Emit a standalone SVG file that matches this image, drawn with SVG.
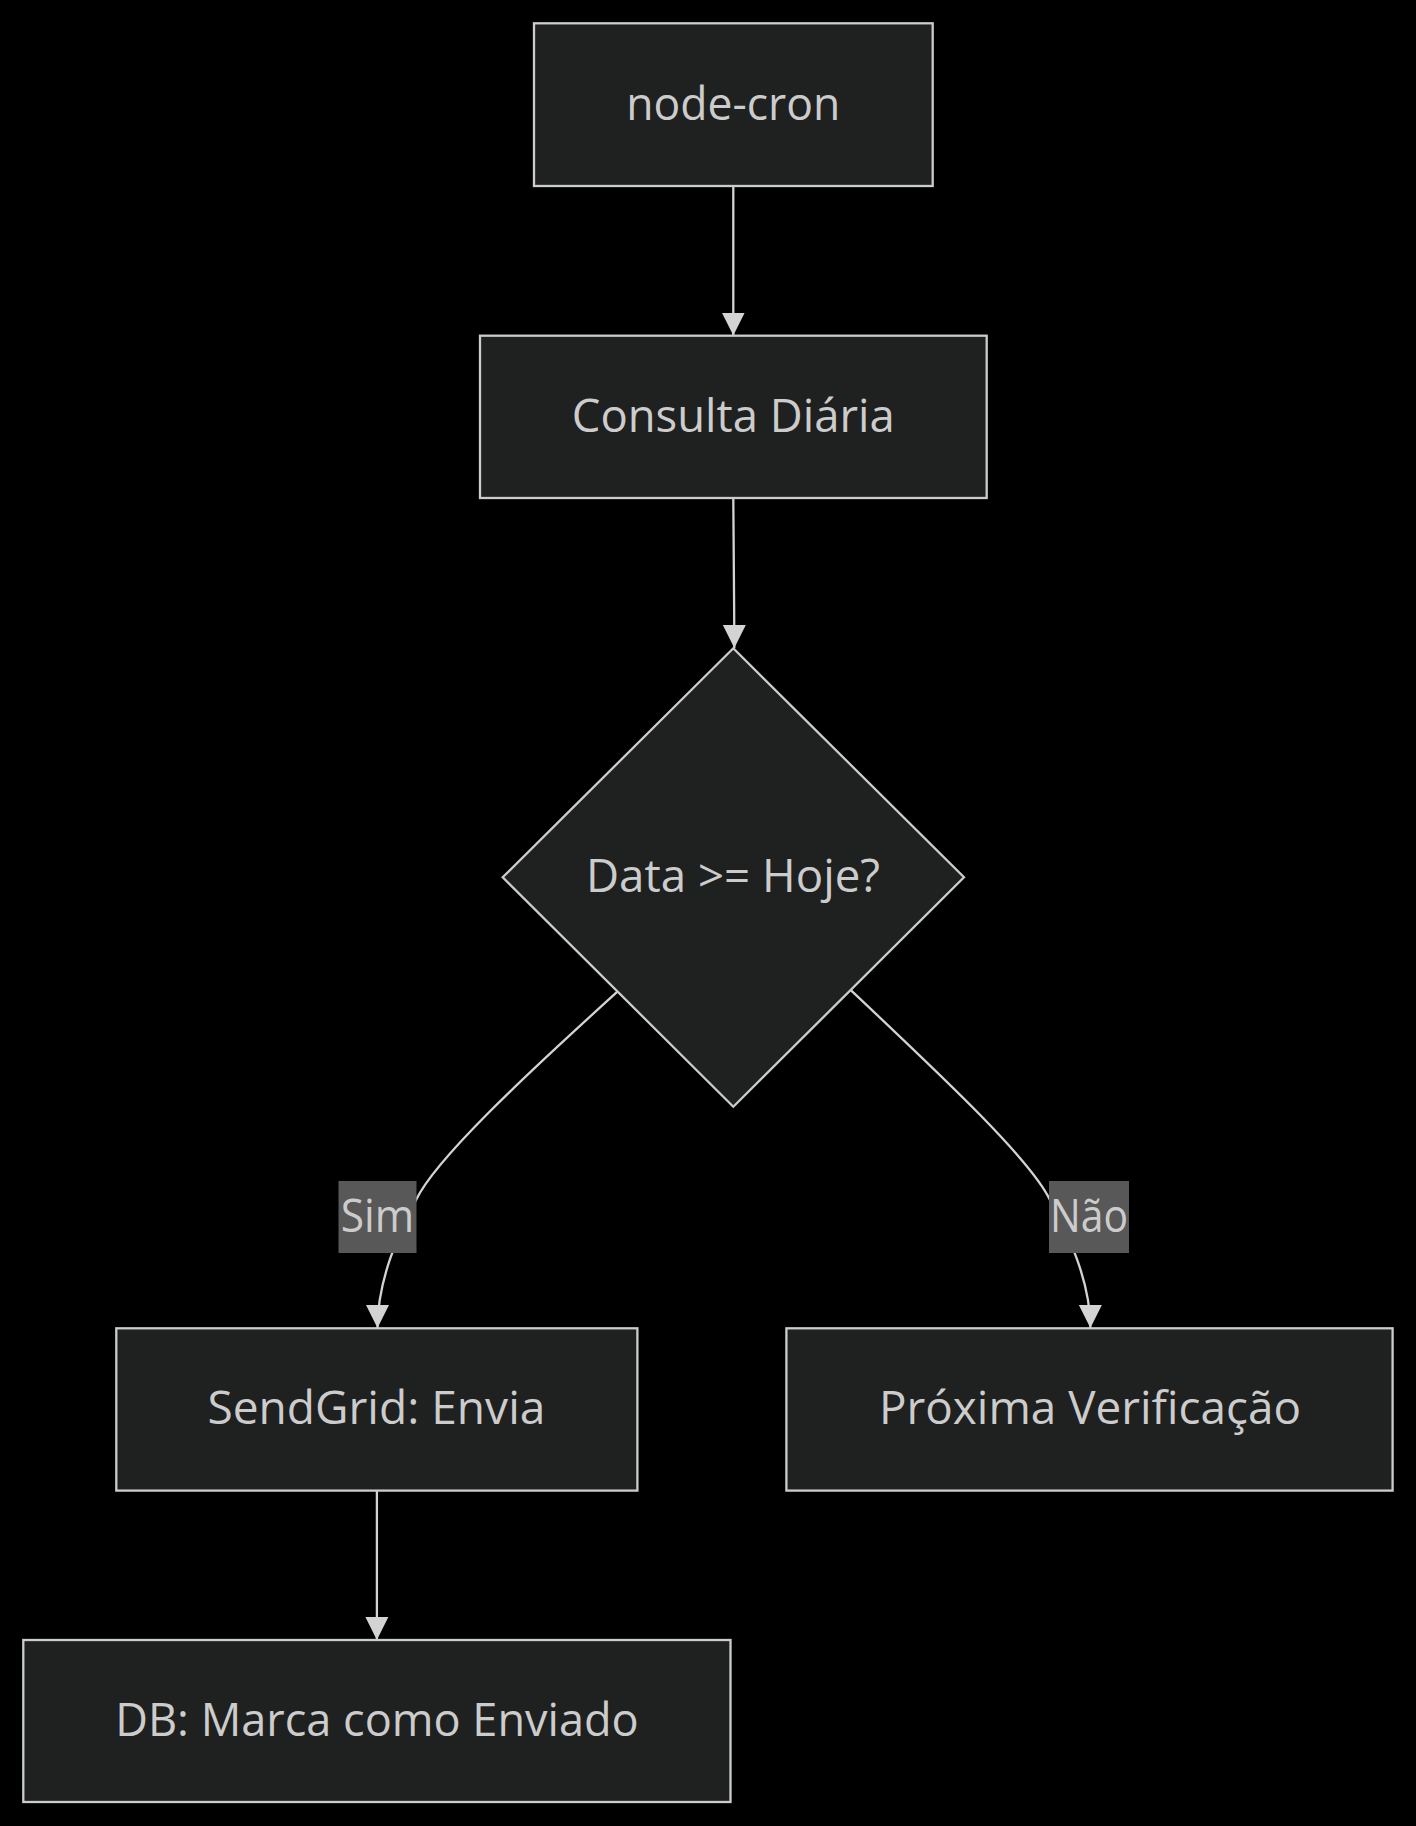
<svg xmlns="http://www.w3.org/2000/svg" width="1416" height="1826" viewBox="0 0 1416 1826">
  <style>
    .node rect, .node polygon { fill: #1f2020; stroke: #cccccc; stroke-width: 2.3; }
    .label { font-family: "Open Sans", "Liberation Sans", sans-serif; font-size: 46px; fill: #cccccc; text-anchor: middle; }
    .edge { fill: none; stroke: #d3d3d3; stroke-width: 2.3; }
    .elabel-bg { fill: #585858; }
  </style>
  <defs>
    <marker id="arrow" viewBox="0 0 10 10" refX="10" refY="5" markerUnits="userSpaceOnUse" markerWidth="23" markerHeight="24" orient="auto">
      <path d="M0,0 L10,5 L0,10 z" fill="#d3d3d3"/>
    </marker>
  </defs>
  <rect x="0" y="0" width="1416" height="1826" fill="#000000"/>

  <g id="edges">
    <path class="edge" d="M733.3,186 L733.3,335.5" marker-end="url(#arrow)"/>
    <path class="edge" d="M733.3,498 C733.5,560 734.3,600 734.3,648" marker-end="url(#arrow)"/>
    <path class="edge" d="M617.4,991.7 C520,1080 435,1160 416,1200 C398,1235 377.5,1280 377.5,1328" marker-end="url(#arrow)"/>
    <path class="edge" d="M851,990.3 C946,1080 1031,1160 1050,1200 C1068,1235 1090.4,1280 1090.4,1328" marker-end="url(#arrow)"/>
    <path class="edge" d="M376.9,1490.6 L376.9,1640" marker-end="url(#arrow)"/>
    <g id="label-sim">
      <rect class="elabel-bg" x="338.5" y="1181" width="78" height="72"/>
      <text class="label" x="377.5" y="1231.7" textLength="73.5" lengthAdjust="spacingAndGlyphs">Sim</text>
    </g>
    <g id="label-nao">
      <rect class="elabel-bg" x="1049" y="1181" width="80" height="72"/>
      <text class="label" x="1089" y="1231.7" textLength="78" lengthAdjust="spacingAndGlyphs">Não</text>
    </g>
  </g>

  <g id="node-cron" class="node">
    <rect x="534" y="23.3" width="398.7" height="162.7"/>
    <text class="label" x="733.3" y="120" textLength="214" lengthAdjust="spacingAndGlyphs">node-cron</text>
  </g>
  <g id="consulta" class="node">
    <rect x="480" y="335.7" width="506.7" height="162.3"/>
    <text class="label" x="733.3" y="432.3" textLength="323" lengthAdjust="spacingAndGlyphs">Consulta Diária</text>
  </g>
  <g id="decisao" class="node">
    <polygon points="733.3,648.3 964,877.3 733.3,1106.7 502.7,877.3"/>
    <text class="label" x="733" y="892.3" textLength="294" lengthAdjust="spacingAndGlyphs">Data &gt;= Hoje?</text>
  </g>
  <g id="sendgrid" class="node">
    <rect x="116.3" y="1328.3" width="521.1" height="162.3"/>
    <text class="label" x="376.4" y="1423.5" textLength="338" lengthAdjust="spacingAndGlyphs">SendGrid: Envia</text>
  </g>
  <g id="proxima" class="node">
    <rect x="786.4" y="1328.3" width="606.2" height="162.3"/>
    <text class="label" x="1090" y="1424" textLength="422" lengthAdjust="spacingAndGlyphs">Próxima Verificação</text>
  </g>
  <g id="db" class="node">
    <rect x="23.3" y="1640" width="707.2" height="162"/>
    <text class="label" x="377" y="1736.2" textLength="523.5" lengthAdjust="spacingAndGlyphs">DB: Marca como Enviado</text>
  </g>
</svg>
